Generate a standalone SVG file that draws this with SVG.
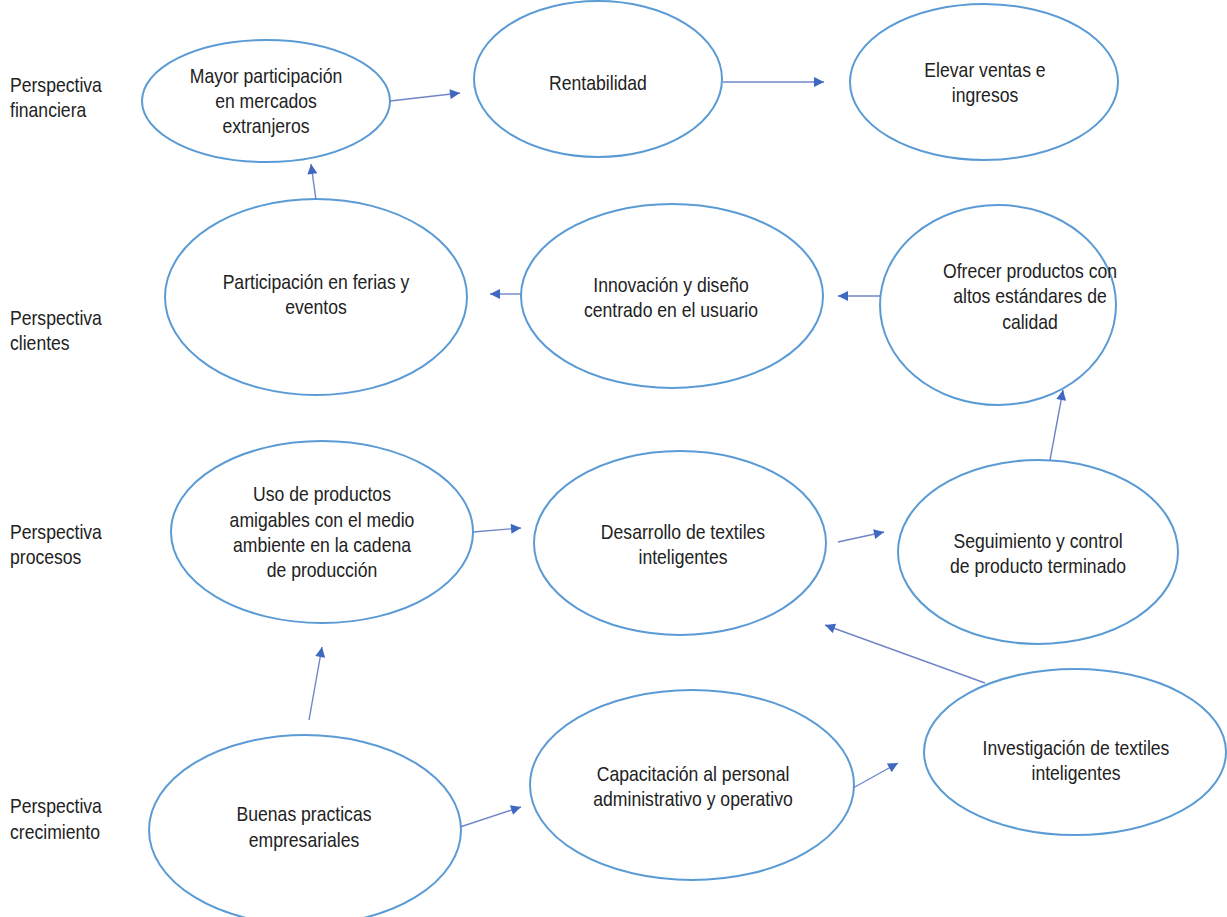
<svg xmlns="http://www.w3.org/2000/svg" width="1227" height="917" viewBox="0 0 1227 917">
  <defs>
    <marker id="head" viewBox="0 0 10 10" refX="10" refY="5" markerWidth="11" markerHeight="10" markerUnits="userSpaceOnUse" orient="auto">
      <path d="M0,0 L10,5 L0,10 Z" fill="#3f68c0"/>
    </marker>
    <style>
      .node ellipse { fill: #ffffff; stroke: #5b9bd5; stroke-width: 2; }
      .node text, .label text { font-family: "Liberation Sans", Arial, sans-serif; font-size: 20px; fill: #222222; }
      .node text { text-anchor: middle; }
      .label text { text-anchor: start; }
      #connectors line { stroke: #6f85c8; stroke-width: 1.4; marker-end: url(#head); }
    </style>
  </defs>
  <rect width="1227" height="917" fill="#ffffff"/>

  <!-- perspective labels -->
  <g class="label" id="lbl-financiera">
    <text transform="translate(10 0) scale(0.88 1)"><tspan x="0" y="92">Perspectiva</tspan><tspan x="0" y="117">financiera</tspan></text>
  </g>
  <g class="label" id="lbl-clientes">
    <text transform="translate(10 0) scale(0.88 1)"><tspan x="0" y="325">Perspectiva</tspan><tspan x="0" y="350">clientes</tspan></text>
  </g>
  <g class="label" id="lbl-procesos">
    <text transform="translate(10 0) scale(0.88 1)"><tspan x="0" y="539">Perspectiva</tspan><tspan x="0" y="564">procesos</tspan></text>
  </g>
  <g class="label" id="lbl-crecimiento">
    <text transform="translate(10 0) scale(0.88 1)"><tspan x="0" y="813">Perspectiva</tspan><tspan x="0" y="839">crecimiento</tspan></text>
  </g>

  <!-- financial -->
  <g class="node" id="n-mercados">
    <ellipse cx="266" cy="101" rx="124" ry="61"/>
    <text transform="translate(266 0) scale(0.88 1)"><tspan x="0" y="83">Mayor participación</tspan><tspan x="0" y="108">en mercados</tspan><tspan x="0" y="133">extranjeros</tspan></text>
  </g>
  <g class="node" id="n-rentabilidad">
    <ellipse cx="598" cy="79" rx="124" ry="78"/>
    <text transform="translate(598 0) scale(0.88 1)"><tspan x="0" y="90">Rentabilidad</tspan></text>
  </g>
  <g class="node" id="n-ventas">
    <ellipse cx="984" cy="82" rx="134" ry="78"/>
    <text transform="translate(985 0) scale(0.88 1)"><tspan x="0" y="77">Elevar ventas e</tspan><tspan x="0" y="102">ingresos</tspan></text>
  </g>

  <!-- clients -->
  <g class="node" id="n-ferias">
    <ellipse cx="316" cy="297" rx="151" ry="98"/>
    <text transform="translate(316 0) scale(0.88 1)"><tspan x="0" y="289">Participación en ferias y</tspan><tspan x="0" y="314">eventos</tspan></text>
  </g>
  <g class="node" id="n-innovacion">
    <ellipse cx="672" cy="296" rx="151" ry="92"/>
    <text transform="translate(671 0) scale(0.88 1)"><tspan x="0" y="292">Innovación y diseño</tspan><tspan x="0" y="317">centrado en el usuario</tspan></text>
  </g>
  <g class="node" id="n-calidad">
    <ellipse cx="998" cy="305" rx="118" ry="100"/>
    <text transform="translate(1030 0) scale(0.88 1)"><tspan x="0" y="278">Ofrecer productos con</tspan><tspan x="0" y="303">altos estándares de</tspan><tspan x="0" y="329">calidad</tspan></text>
  </g>

  <!-- processes -->
  <g class="node" id="n-ambiente">
    <ellipse cx="322" cy="532" rx="151" ry="91"/>
    <text transform="translate(322 0) scale(0.88 1)"><tspan x="0" y="501">Uso de productos</tspan><tspan x="0" y="527">amigables con el medio</tspan><tspan x="0" y="552">ambiente en la cadena</tspan><tspan x="0" y="577">de producción</tspan></text>
  </g>
  <g class="node" id="n-desarrollo">
    <ellipse cx="680" cy="543" rx="146" ry="92"/>
    <text transform="translate(683 0) scale(0.88 1)"><tspan x="0" y="539">Desarrollo de textiles</tspan><tspan x="0" y="564">inteligentes</tspan></text>
  </g>
  <g class="node" id="n-seguimiento">
    <ellipse cx="1038" cy="552" rx="140" ry="92"/>
    <text transform="translate(1038 0) scale(0.88 1)"><tspan x="0" y="548">Seguimiento y control</tspan><tspan x="0" y="573">de producto terminado</tspan></text>
  </g>

  <!-- growth -->
  <g class="node" id="n-practicas">
    <ellipse cx="305" cy="830" rx="156" ry="95"/>
    <text transform="translate(304 0) scale(0.88 1)"><tspan x="0" y="821">Buenas practicas</tspan><tspan x="0" y="847">empresariales</tspan></text>
  </g>
  <g class="node" id="n-capacitacion">
    <ellipse cx="692" cy="785" rx="162" ry="95"/>
    <text transform="translate(693 0) scale(0.88 1)"><tspan x="0" y="781">Capacitación al personal</tspan><tspan x="0" y="806">administrativo y operativo</tspan></text>
  </g>
  <g class="node" id="n-investigacion">
    <ellipse cx="1075" cy="752" rx="151" ry="83"/>
    <text transform="translate(1076 0) scale(0.88 1)"><tspan x="0" y="755">Investigación de textiles</tspan><tspan x="0" y="780">inteligentes</tspan></text>
  </g>

  <!-- connectors -->
  <g id="connectors">
    <line x1="390" y1="101" x2="460" y2="93"/>
    <line x1="723" y1="82" x2="824" y2="82"/>
    <line x1="316" y1="200" x2="311" y2="164"/>
    <line x1="880" y1="296" x2="838" y2="296"/>
    <line x1="521" y1="294" x2="490" y2="294"/>
    <line x1="1050" y1="460" x2="1063" y2="390"/>
    <line x1="473" y1="532" x2="521" y2="528"/>
    <line x1="838" y1="542" x2="884" y2="532"/>
    <line x1="985" y1="683" x2="825" y2="625"/>
    <line x1="853" y1="788" x2="898" y2="763"/>
    <line x1="309" y1="720" x2="322" y2="647"/>
    <line x1="460" y1="827" x2="521" y2="807"/>
  </g>
</svg>
